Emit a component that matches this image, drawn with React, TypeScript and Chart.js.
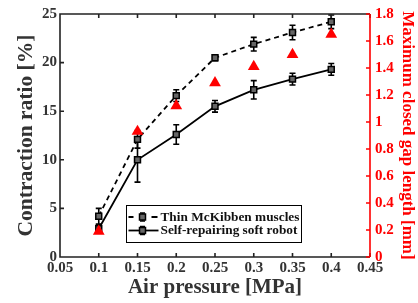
import React, { useEffect, useRef } from 'react';
import { Chart, registerables } from 'chart.js';

Chart.register(...registerables);

// ---- data ----
const pressures = [0.1, 0.15, 0.2, 0.25, 0.3, 0.35, 0.4];
const thinMcKibben = [4.2, 12.1, 16.6, 20.5, 21.9, 23.1, 24.2];
const thinErr = [0.8, 0.9, 0.6, 0.3, 0.7, 0.75, 0.7];
const selfRepairing = [2.9, 10.0, 12.6, 15.5, 17.2, 18.3, 19.3];
const selfErr = [0.4, 2.3, 1.0, 0.6, 0.95, 0.6, 0.6];
const gapLength = [0.19, 0.93, 1.12, 1.29, 1.41, 1.5, 1.65];

const xTicks = [0.05, 0.1, 0.15, 0.2, 0.25, 0.3, 0.35, 0.4, 0.45];
const xTickLabels = ['0.05', '0.1', '0.15', '0.2', '0.25', '0.3', '0.35', '0.4', '0.45'];
const yTicks = [0, 5, 10, 15, 20, 25];
const yTickLabels = ['0', '5', '10', '15', '20', '25'];
const y1Ticks = [0, 0.2, 0.4, 0.6, 0.8, 1, 1.2, 1.4, 1.6, 1.8];
const y1TickLabels = ['0', '0.2', '0.4', '0.6', '0.8', '1', '1.2', '1.4', '1.6', '1.8'];

const seriesNames = ['Thin McKibben muscles', 'Self-repairing soft robot'];

const FONT = 'Liberation Serif';
const TEXT = '#333333';
const RED = '#ff0000';

const errorMap: Record<number, number[]> = { 1: thinErr, 2: selfErr };

function drawErrBar(ctx: CanvasRenderingContext2D, x: number, yTop: number, yBot: number, cap: number) {
  ctx.beginPath();
  ctx.moveTo(x, yTop);
  ctx.lineTo(x, yBot);
  ctx.moveTo(x - cap, yTop);
  ctx.lineTo(x + cap, yTop);
  ctx.moveTo(x - cap, yBot);
  ctx.lineTo(x + cap, yBot);
  ctx.stroke();
}

const errorBarsPlugin = {
  id: 'errorBars',
  beforeDatasetsDraw(chart: any) {
    const ctx = chart.ctx;
    const xs = chart.scales.x;
    const ys = chart.scales.y;
    ctx.save();
    ctx.strokeStyle = '#000';
    ctx.lineWidth = 1.6;
    ctx.setLineDash([]);
    Object.keys(errorMap).forEach((k) => {
      const idx = Number(k);
      const ds = chart.data.datasets[idx];
      const errs = errorMap[idx];
      ds.data.forEach((p: any, i: number) => {
        const px = xs.getPixelForValue(p.x);
        drawErrBar(ctx, px, ys.getPixelForValue(p.y + errs[i]), ys.getPixelForValue(p.y - errs[i]), 3);
      });
    });
    ctx.restore();
  },
};

const framePlugin = {
  id: 'frame',
  afterDatasetsDraw(chart: any) {
    const ctx = chart.ctx;
    const { left, right, top, bottom } = chart.chartArea;
    const xs = chart.scales.x;
    const ys = chart.scales.y;
    const y1 = chart.scales.y1;
    const tl = 4;
    ctx.save();
    ctx.setLineDash([]);
    ctx.lineWidth = 1.6;
    ctx.strokeStyle = '#222';
    ctx.beginPath();
    ctx.moveTo(right, top);
    ctx.lineTo(left, top);
    ctx.lineTo(left, bottom);
    ctx.lineTo(right, bottom);
    xs.ticks.forEach((t: any) => {
      const px = xs.getPixelForValue(t.value);
      ctx.moveTo(px, bottom);
      ctx.lineTo(px, bottom - tl);
      ctx.moveTo(px, top);
      ctx.lineTo(px, top + tl);
    });
    ys.ticks.forEach((t: any) => {
      const py = ys.getPixelForValue(t.value);
      ctx.moveTo(left, py);
      ctx.lineTo(left + tl, py);
    });
    ctx.stroke();
    ctx.strokeStyle = RED;
    ctx.beginPath();
    ctx.moveTo(right, top);
    ctx.lineTo(right, bottom);
    y1.ticks.forEach((t: any) => {
      const py = y1.getPixelForValue(t.value);
      ctx.moveTo(right, py);
      ctx.lineTo(right - tl, py);
    });
    ctx.stroke();
    ctx.restore();
  },
};

const legendPlugin = {
  id: 'customLegend',
  afterDraw(chart: any) {
    const ctx = chart.ctx;
    const xs = chart.scales.x;
    const ys = chart.scales.y;
    const bx = Math.round(xs.getPixelForValue(0.135)) + 0.5;
    const by = Math.round(ys.getPixelForValue(5.3)) + 0.5;
    const bw = 175;
    const bh = 37;
    ctx.save();
    ctx.fillStyle = '#fff';
    ctx.fillRect(bx, by, bw, bh);
    ctx.strokeStyle = '#000';
    ctx.lineWidth = 1;
    ctx.strokeRect(bx, by, bw, bh);
    const rows = [by + 11.5, by + 25];
    rows.forEach((ry, i) => {
      const ds = chart.data.datasets[i + 1];
      ctx.strokeStyle = '#000';
      ctx.lineWidth = 1.8;
      ctx.setLineDash([]);
      ctx.beginPath();
      if (i === 0) {
        ctx.moveTo(bx + 2, ry);
        ctx.lineTo(bx + 7, ry);
        ctx.moveTo(bx + 25, ry);
        ctx.lineTo(bx + 31, ry);
      } else {
        ctx.moveTo(bx + 2, ry);
        ctx.lineTo(bx + 32, ry);
      }
      ctx.stroke();
      ctx.lineWidth = 1.6;
      drawErrBar(ctx, bx + 16, ry - 4, ry + 4, 2.5);
      ctx.fillStyle = ds.pointBackgroundColor;
      ctx.fillRect(bx + 13, ry - 3, 6, 6);
      ctx.lineWidth = 1.5;
      ctx.strokeRect(bx + 13, ry - 3, 6, 6);
      ctx.fillStyle = '#111';
      ctx.font = `bold 13.3px "${FONT}"`;
      ctx.textBaseline = 'middle';
      ctx.textAlign = 'left';
      ctx.fillText(seriesNames[i], bx + 34, ry + 0.5);
    });
    ctx.restore();
  },
};

export default function App() {
  const canvasRef = useRef<HTMLCanvasElement | null>(null);

  useEffect(() => {
    const canvas = canvasRef.current;
    if (!canvas) return;
    const chart = new Chart(canvas, {
      type: 'line',
      data: {
        datasets: [
          {
            label: 'Maximum closed gap length',
            data: pressures.map((x, i) => ({ x, y: gapLength[i] })),
            yAxisID: 'y1',
            showLine: false,
            pointStyle: 'triangle',
            pointRadius: 6.8,
            pointBackgroundColor: RED,
            pointBorderColor: RED,
            pointBorderWidth: 0,
            order: 0,
          },
          {
            label: seriesNames[0],
            data: pressures.map((x, i) => ({ x, y: thinMcKibben[i] })),
            yAxisID: 'y',
            borderColor: '#000',
            borderWidth: 1.8,
            borderDash: [5, 4],
            pointStyle: 'rect',
            pointRadius: 4.2,
            pointBackgroundColor: '#666',
            pointBorderColor: '#000',
            pointBorderWidth: 1.5,
            order: 1,
          },
          {
            label: seriesNames[1],
            data: pressures.map((x, i) => ({ x, y: selfRepairing[i] })),
            yAxisID: 'y',
            borderColor: '#000',
            borderWidth: 1.8,
            pointStyle: 'rect',
            pointRadius: 4.2,
            pointBackgroundColor: '#666',
            pointBorderColor: '#000',
            pointBorderWidth: 1.5,
            order: 2,
          },
        ],
      },
      options: {
        responsive: false,
        animation: false,
        layout: { padding: { top: 13, left: 0, right: 0, bottom: 0 } },
        plugins: {
          legend: { display: false },
          tooltip: { enabled: false },
        },
        scales: {
          x: {
            type: 'linear',
            min: 0.05,
            max: 0.45,
            afterBuildTicks: (s: any) => {
              s.ticks = xTicks.map((v) => ({ value: v }));
            },
            afterFit: (s: any) => {
              s.height = 46;
            },
            grid: { display: false, drawTicks: false },
            border: { display: false },
            ticks: {
              callback: (_v: any, i: number) => xTickLabels[i],
              color: TEXT,
              font: { family: FONT, size: 15, weight: 'bold' },
              padding: 2,
              maxRotation: 0,
              autoSkip: false,
            },
            title: {
              display: true,
              text: 'Air pressure [MPa]',
              color: TEXT,
              font: { family: FONT, size: 21, weight: 'bold' },
              padding: { top: 0, bottom: 3 },
            },
          },
          y: {
            type: 'linear',
            position: 'left',
            min: 0,
            max: 25,
            afterBuildTicks: (s: any) => {
              s.ticks = yTicks.map((v) => ({ value: v }));
            },
            afterFit: (s: any) => {
              s.width = 60;
            },
            grid: { display: false, drawTicks: false },
            border: { display: false },
            ticks: {
              callback: (_v: any, i: number) => yTickLabels[i],
              color: TEXT,
              font: { family: FONT, size: 15, weight: 'bold' },
              padding: 3,
              autoSkip: false,
            },
            title: {
              display: true,
              text: 'Contraction ratio [%]',
              color: TEXT,
              font: { family: FONT, size: 21.5, weight: 'bold' },
              padding: { top: 14, bottom: 0 },
            },
          },
          y1: {
            type: 'linear',
            position: 'right',
            min: 0,
            max: 1.8,
            afterBuildTicks: (s: any) => {
              s.ticks = y1Ticks.map((v) => ({ value: v }));
            },
            afterFit: (s: any) => {
              s.width = 48;
            },
            grid: { display: false, drawTicks: false },
            border: { display: false },
            ticks: {
              callback: (_v: any, i: number) => y1TickLabels[i],
              color: RED,
              font: { family: FONT, size: 15, weight: 'bold' },
              padding: 5,
              autoSkip: false,
            },
            title: {
              display: true,
              text: 'Maximum closed gap length [mm]',
              color: RED,
              font: { family: FONT, size: 17, weight: 'bold' },
              padding: { top: 0, bottom: 0 },
            },
          },
        },
      } as any,
      plugins: [errorBarsPlugin, framePlugin, legendPlugin],
    });
    return () => chart.destroy();
  }, []);

  return (
    <div style={{ position: 'fixed', left: 0, top: 0, width: 418, height: 303, background: '#fff' }}>
      <canvas ref={canvasRef} width={418} height={303} style={{ display: 'block' }} />
    </div>
  );
}
